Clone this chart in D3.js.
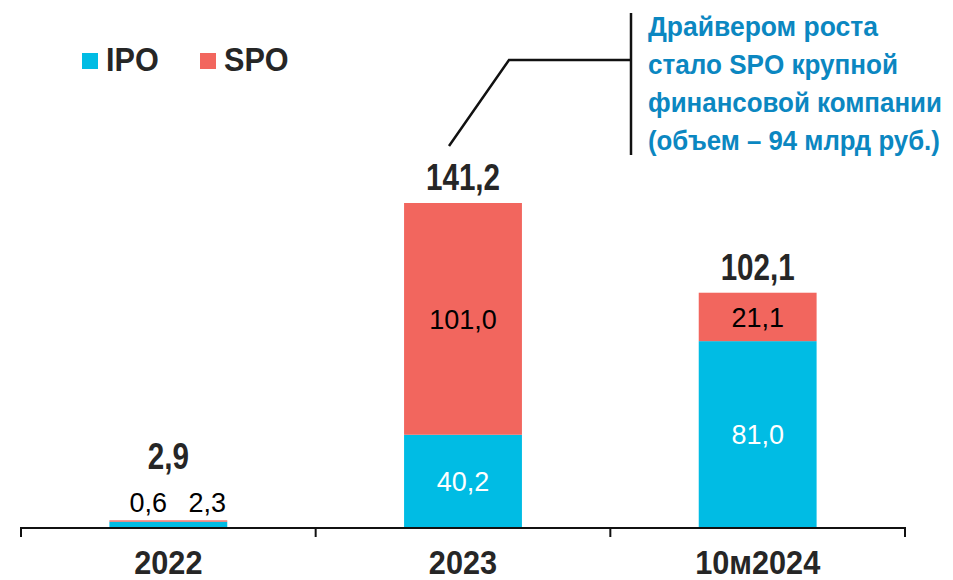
<!DOCTYPE html>
<html>
<head>
<meta charset="utf-8">
<script src="https://cdn.jsdelivr.net/npm/d3@7"></script>
<style>
  body { margin: 0; background: #fff; }
  svg { display: block; font-family: "Liberation Sans", Arial, sans-serif; }
</style>
</head>
<body>
<div id="chart"></div>
<script>
// Data
const categories = ["2022", "2023", "10м2024"];
const ipo = [2.3, 40.2, 81.0];
const spo = [0.6, 101.0, 21.1];
const totals = [2.9, 141.2, 102.1];
const seriesNames = ["IPO", "SPO"];
const note = ["Драйвером роста", "стало SPO крупной", "финансовой компании", "(объем – 94 млрд руб.)"];

const colors = { IPO: "#00BCE4", SPO: "#F2665E" };
const fmt = v => v.toFixed(1).replace(".", ",");

const width = 953, height = 580;
const svg = d3.select("#chart").append("svg")
  .attr("width", width)
  .attr("height", height);

// Scales
const x = d3.scaleBand().domain(categories).range([21, 905])
  .paddingInner(0.6).paddingOuter(0.3);
const y = d3.scaleLinear().domain([0, 141.2]).range([527, 203]);

const rows = categories.map((c, i) => ({ cat: c, IPO: ipo[i], SPO: spo[i], total: totals[i] }));
const stacked = d3.stack().keys(seriesNames)(rows);

// helper for condensed bold text
function label(g, tx, ty, text, opts) {
  return g.append("text")
    .attr("transform", `translate(${tx},${ty}) scale(${opts.sx || 1},1)`)
    .attr("text-anchor", opts.anchor || "middle")
    .attr("font-size", opts.size)
    .attr("font-weight", opts.bold ? "bold" : "normal")
    .attr("fill", opts.fill || "#000")
    .text(text);
}

// Bars
svg.append("g").selectAll("g")
  .data(stacked)
  .join("g")
  .attr("fill", d => colors[d.key])
  .selectAll("rect")
  .data(d => d)
  .join("rect")
  .attr("x", d => x(d.data.cat))
  .attr("width", x.bandwidth())
  .attr("y", d => y(d[1]))
  .attr("height", d => y(d[0]) - y(d[1]));

// Axis: baseline with ticks at band boundaries
const axis = svg.append("g");
const step = x.step();
const x0 = x.range()[0];
axis.append("line")
  .attr("x1", x0).attr("x2", x.range()[1])
  .attr("y1", y(0) + 1).attr("y2", y(0) + 1)
  .attr("stroke", "#111").attr("stroke-width", 2);
axis.selectAll(".tick")
  .data(d3.range(categories.length + 1))
  .join("line")
  .attr("x1", i => x0 + i * step).attr("x2", i => x0 + i * step)
  .attr("y1", y(0)).attr("y2", y(0) + 10)
  .attr("stroke", "#111").attr("stroke-width", 2);

const labels = svg.append("g");
categories.forEach(c => {
  label(labels, x(c) + x.bandwidth() / 2, 574, c, { size: 33, bold: true, sx: 0.93, fill: "#262626" });
});

// Segment labels and totals
rows.forEach(r => {
  const cx = x(r.cat) + x.bandwidth() / 2;
  const small = y(0) - y(r.total) < 30;
  if (small) {
    label(labels, cx - 20, y(r.total) - 8, fmt(r.SPO), { size: 27 });
    label(labels, cx + 39, y(r.total) - 8, fmt(r.IPO), { size: 27 });
    label(labels, cx, y(r.total) - 51, fmt(r.total), { size: 37, bold: true, sx: 0.8, fill: "#262626" });
  } else {
    label(labels, cx, (y(0) + y(r.IPO)) / 2 + 10, fmt(r.IPO), { size: 27, fill: "#fff" });
    label(labels, cx, (y(r.IPO) + y(r.total)) / 2 + 10, fmt(r.SPO), { size: 27 });
    label(labels, cx, y(r.total) - 13, fmt(r.total), { size: 37, bold: true, sx: 0.8, fill: "#262626" });
  }
});

// Legend
const legend = svg.append("g");
[[82, "IPO"], [200, "SPO"]].forEach(([lx, k]) => {
  legend.append("rect").attr("x", lx).attr("y", 53).attr("width", 16).attr("height", 16)
    .attr("fill", colors[k]);
  label(legend, lx + 24, 71, k, { size: 34, bold: true, sx: 0.9, anchor: "start", fill: "#262626" });
});

// Annotation
const ann = svg.append("g");
const ax = x("2023") + x.bandwidth() / 2 - 14;
const ay = y(141.2) - 57;
ann.append("polyline")
  .attr("points", `${ax},${ay} ${ax + 60},60 630,60`)
  .attr("fill", "none").attr("stroke", "#111").attr("stroke-width", 2.5);
ann.append("line")
  .attr("x1", 631).attr("x2", 631).attr("y1", 13).attr("y2", 155)
  .attr("stroke", "#111").attr("stroke-width", 2.5);
// condense the note lines to the widths seen in the reference
const noteWidths = [230, 250, 294, 292];
note.forEach((t, i) => {
  const txt = ann.append("text")
    .attr("font-size", 28).attr("font-weight", "bold")
    .attr("fill", "#0B87C1")
    .text(t);
  const sx = noteWidths[i] / txt.node().getComputedTextLength();
  txt.attr("transform", `translate(648,${36 + i * 38}) scale(${sx},1)`);
});
</script>
</body>
</html>
